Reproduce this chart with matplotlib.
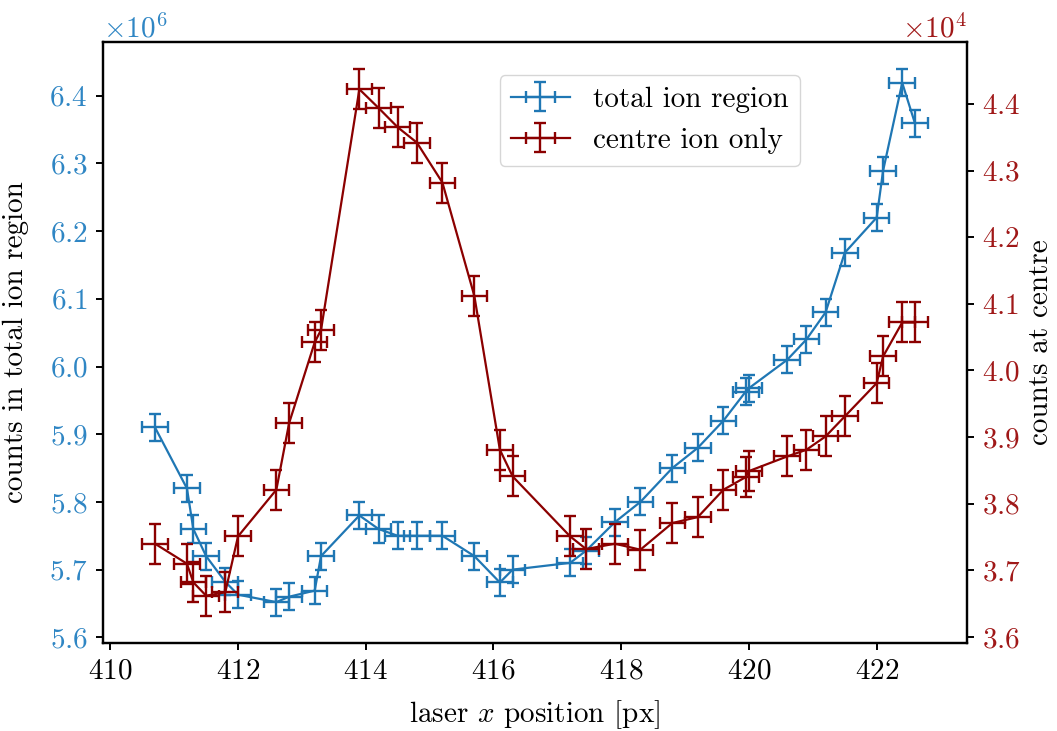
import numpy as np
import matplotlib
matplotlib.use("Agg")
import matplotlib.pyplot as plt
from matplotlib.ticker import MultipleLocator

plt.rcParams['font.family'] = 'serif'
plt.rcParams['font.serif'] = ['cmr10']
plt.rcParams['mathtext.fontset'] = 'cm'
plt.rcParams['axes.formatter.use_mathtext'] = True
plt.rcParams['axes.unicode_minus'] = False

# laser positions (px) and counts
x_pos = [410.70, 411.20, 411.30, 411.50, 411.80, 412.00, 412.60, 412.80, 413.20, 413.30,
         413.90, 414.20, 414.50, 414.80, 415.20, 415.70, 416.10, 416.30, 417.20, 417.45,
         417.90, 418.30, 418.80, 419.20, 419.60, 419.95, 420.00, 420.60, 420.90, 421.20,
         421.50, 422.00, 422.10, 422.40, 422.60]
total_counts = [5.910, 5.820, 5.760, 5.720, 5.682, 5.663, 5.652, 5.660, 5.669, 5.720,
                5.780, 5.760, 5.750, 5.750, 5.750, 5.720, 5.681, 5.700, 5.710, 5.728,
                5.770, 5.800, 5.850, 5.880, 5.920, 5.963, 5.968, 6.010, 6.040, 6.080,
                6.168, 6.220, 6.289, 6.419, 6.359]  # x 1e6
centre_counts = [3.740, 3.710, 3.682, 3.662, 3.667, 3.751, 3.821, 3.921, 4.042, 4.061,
                 4.422, 4.394, 4.365, 4.342, 4.282, 4.112, 3.881, 3.841, 3.751, 3.732,
                 3.740, 3.731, 3.771, 3.780, 3.821, 3.840, 3.849, 3.871, 3.881, 3.901,
                 3.931, 3.981, 4.021, 4.072, 4.072]  # x 1e4
x_err = 0.2
total_err = 0.02e6
centre_err = 0.03e4

x = np.array(x_pos)
total = np.array(total_counts) * 1e6
centre = np.array(centre_counts) * 1e4

blue = '#1f77b4'
red = '#8b0000'

fig = plt.figure(figsize=(10.57, 7.31), dpi=100)
ax = fig.add_axes([0.0974, 0.1204, 0.8175, 0.8222])
ax2 = ax.twinx()

fs = 21
eb_kw = dict(capsize=4.5, elinewidth=1.7, capthick=1.7, lw=1.6)
h1 = ax.errorbar(x, total, xerr=x_err, yerr=total_err, color=blue,
                 label='total ion region', **eb_kw)
h2 = ax2.errorbar(x, centre, xerr=x_err, yerr=centre_err, color=red,
                  label='centre ion only', **eb_kw)

ax.set_xlabel('laser $x$ position [px]', fontsize=fs, labelpad=10)
ax.set_ylabel('counts in total ion region', fontsize=fs, labelpad=14)
ax2.set_ylabel('counts at centre', fontsize=fs, labelpad=5)

ax.yaxis.set_major_locator(MultipleLocator(0.1e6))
ax2.yaxis.set_major_locator(MultipleLocator(0.1e4))
for a, col in ((ax, '#2f86c4'), (ax2, '#a01818')):
    a.ticklabel_format(axis='y', style='sci', scilimits=(-3, 3), useMathText=True)
    a.tick_params(axis='y', labelcolor=col, labelsize=fs)
    a.yaxis.get_offset_text().set_color(col)
    a.yaxis.get_offset_text().set_fontsize(fs)
ax.tick_params(axis='x', labelsize=fs)
for a in (ax, ax2):
    for s in a.spines.values():
        s.set_linewidth(1.6)
    a.tick_params(width=1.4, length=5, pad=6)

ax2.legend([h1, h2], ['total ion region', 'centre ion only'], fontsize=fs,
           loc='upper left', bbox_to_anchor=(0.459, 0.945), borderaxespad=0)

fig.savefig('out.png', dpi=100)
